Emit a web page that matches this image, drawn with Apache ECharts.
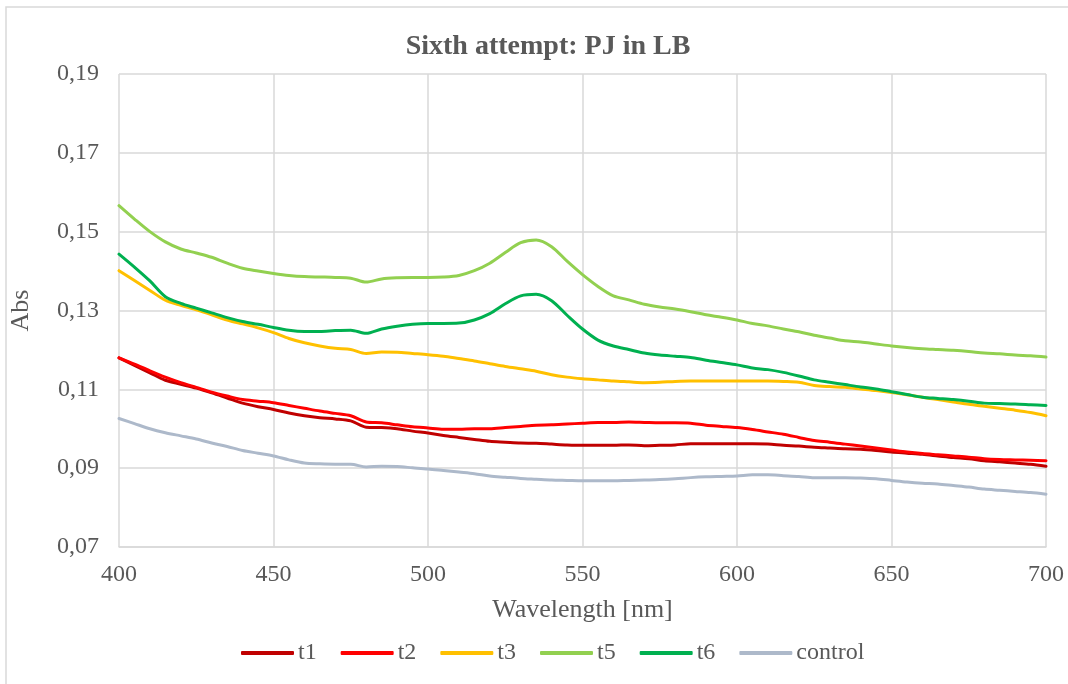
<!DOCTYPE html>
<html>
<head>
<meta charset="utf-8">
<title>Sixth attempt: PJ in LB</title>
<script src="https://cdn.jsdelivr.net/npm/echarts@6/dist/echarts.min.js"></script>
<style>
  html, body { margin: 0; padding: 0; background: #ffffff; }
  #chart { width: 1068px; height: 684px; }
</style>
</head>
<body>
<div id="chart"></div>
<script>
// Wavelength grid (nm), 5 nm steps
const wavelengths = [];
for (let w = 400; w <= 700; w += 5) wavelengths.push(w);

// Absorbance readings per sample, one value per wavelength
const t1 = [
  0.1180, 0.1161, 0.1142, 0.1123, 0.1113, 0.1103, 0.1091, 0.1078, 0.1065, 0.1056,
  0.1049, 0.1040, 0.1033, 0.1028, 0.1025, 0.1020, 0.1004, 0.1003, 0.1000, 0.0994,
  0.0989, 0.0983, 0.0978, 0.0973, 0.0968, 0.0966, 0.0964, 0.0963, 0.0961, 0.0959,
  0.0958, 0.0958, 0.0958, 0.0959, 0.0957, 0.0958, 0.0959, 0.0962, 0.0962, 0.0962,
  0.0962, 0.0962, 0.0961, 0.0958, 0.0956, 0.0953, 0.0951, 0.0949, 0.0948, 0.0945,
  0.0941, 0.0938, 0.0935, 0.0931, 0.0927, 0.0924, 0.0919, 0.0916, 0.0913, 0.0910,
  0.0905
];
const t2 = [
  0.1180, 0.1164, 0.1147, 0.1131, 0.1117, 0.1105, 0.1093, 0.1083, 0.1074, 0.1070,
  0.1066, 0.1059, 0.1052, 0.1045, 0.1039, 0.1033, 0.1017, 0.1015, 0.1010, 0.1005,
  0.1002, 0.0999, 0.0999, 0.1000, 0.1000, 0.1003, 0.1006, 0.1009, 0.1010, 0.1012,
  0.1014, 0.1016, 0.1016, 0.1017, 0.1016, 0.1015, 0.1015, 0.1014, 0.1009, 0.1006,
  0.1003, 0.0998, 0.0992, 0.0986, 0.0978, 0.0970, 0.0966, 0.0961, 0.0956, 0.0951,
  0.0946, 0.0941, 0.0937, 0.0934, 0.0931, 0.0928, 0.0924, 0.0922, 0.0921, 0.0920,
  0.0919
];
const t3 = [
  0.1401, 0.1376, 0.1351, 0.1326, 0.1313, 0.1302, 0.1289, 0.1276, 0.1266, 0.1256,
  0.1244, 0.1229, 0.1218, 0.1210, 0.1204, 0.1201, 0.1191, 0.1195, 0.1194, 0.1191,
  0.1188, 0.1184, 0.1178, 0.1172, 0.1165, 0.1158, 0.1152, 0.1146, 0.1137, 0.1131,
  0.1127, 0.1124, 0.1121, 0.1119, 0.1117, 0.1118, 0.1120, 0.1121, 0.1121, 0.1121,
  0.1121, 0.1121, 0.1121, 0.1120, 0.1118, 0.1110, 0.1107, 0.1105, 0.1101, 0.1097,
  0.1092, 0.1086, 0.1080, 0.1074, 0.1068, 0.1062, 0.1057, 0.1052, 0.1047, 0.1041,
  0.1033
];
const t5 = [
  0.1566, 0.1532, 0.1500, 0.1474, 0.1456, 0.1446, 0.1435, 0.1420, 0.1407, 0.1400,
  0.1394, 0.1389, 0.1386, 0.1385, 0.1384, 0.1382, 0.1372, 0.1380, 0.1383, 0.1384,
  0.1384, 0.1385, 0.1389, 0.1401, 0.1420, 0.1447, 0.1472, 0.1479, 0.1462, 0.1425,
  0.1391, 0.1361, 0.1337, 0.1327, 0.1316, 0.1309, 0.1304, 0.1297, 0.1289, 0.1283,
  0.1276, 0.1267, 0.1261, 0.1253, 0.1246, 0.1237, 0.1230, 0.1223, 0.1220, 0.1215,
  0.1210, 0.1206, 0.1203, 0.1201, 0.1199, 0.1196, 0.1192, 0.1190, 0.1187, 0.1185,
  0.1182
];
const t6 = [
  0.1443, 0.1410, 0.1375, 0.1335, 0.1318, 0.1306, 0.1294, 0.1282, 0.1272, 0.1265,
  0.1257, 0.1250, 0.1247, 0.1247, 0.1249, 0.1250, 0.1242, 0.1253, 0.1260, 0.1265,
  0.1267, 0.1267, 0.1268, 0.1276, 0.1292, 0.1317, 0.1337, 0.1341, 0.1325, 0.1288,
  0.1253, 0.1225, 0.1210, 0.1201, 0.1192, 0.1187, 0.1184, 0.1181, 0.1174, 0.1168,
  0.1162, 0.1154, 0.1150, 0.1143, 0.1134, 0.1124, 0.1118, 0.1112, 0.1106, 0.1101,
  0.1094, 0.1087, 0.1080, 0.1077, 0.1074, 0.1070, 0.1065, 0.1064, 0.1063, 0.1061,
  0.1059
];
const control = [
  0.1026, 0.1013, 0.1000, 0.0990, 0.0982, 0.0974, 0.0964, 0.0955, 0.0945, 0.0938,
  0.0931, 0.0921, 0.0913, 0.0911, 0.0910, 0.0910, 0.0903, 0.0905, 0.0904, 0.0901,
  0.0898, 0.0894, 0.0890, 0.0886, 0.0880, 0.0877, 0.0874, 0.0872, 0.0870, 0.0869,
  0.0868, 0.0868, 0.0868, 0.0869, 0.0870, 0.0871, 0.0873, 0.0876, 0.0878, 0.0879,
  0.0880, 0.0883, 0.0883, 0.0881, 0.0879, 0.0876, 0.0876, 0.0876, 0.0875, 0.0873,
  0.0869, 0.0865, 0.0862, 0.0860, 0.0856, 0.0852, 0.0847, 0.0844, 0.0841, 0.0838,
  0.0834
];

const seriesNames = ['t1', 't2', 't3', 't5', 't6', 'control'];
const seriesValues = [t1, t2, t3, t5, t6, control];
const seriesColors = ['#C00000', '#FF0000', '#FFC000', '#92D050', '#00B050', '#ADB9CA'];

const FONT = '"Liberation Serif", "Times New Roman", serif';
const TEXT = '#595959';
const GRID = '#d9d9d9';

const chart = echarts.init(document.getElementById('chart'), null, { renderer: 'canvas' });

chart.setOption({
  animation: false,
  backgroundColor: '#ffffff',
  textStyle: { fontFamily: FONT, color: TEXT },
  title: {
    text: 'Sixth attempt: PJ in LB',
    left: 543,
    textAlign: 'center',
    top: 28,
    textStyle: { fontFamily: FONT, fontSize: 28, fontWeight: 'bold', color: TEXT }
  },
  graphic: [{
    type: 'rect',
    shape: { x: 6, y: 7, width: 1100, height: 720 },
    style: { fill: 'none', stroke: GRID, lineWidth: 1.5 },
    silent: true
  }],
  legend: {
    data: seriesNames,
    left: 236,
    top: 636,
    itemWidth: 53,
    itemHeight: 4,
    itemGap: 24,
    icon: 'roundRect',
    textStyle: { fontFamily: FONT, fontSize: 24, color: TEXT, padding: [0, 0, 0, -1] }
  },
  grid: { left: 119, right: 22, top: 74, bottom: 137, containLabel: false },
  xAxis: {
    type: 'value',
    min: 400,
    max: 700,
    interval: 50,
    name: 'Wavelength [nm]',
    nameLocation: 'middle',
    nameGap: 50,
    nameTextStyle: { fontFamily: FONT, fontSize: 26, color: TEXT },
    axisLine: { show: true, lineStyle: { color: GRID, width: 1.5 } },
    axisTick: { show: false },
    axisLabel: { fontFamily: FONT, fontSize: 24, color: TEXT, margin: 16 },
    splitLine: { show: true, lineStyle: { color: GRID, width: 1.5 } }
  },
  yAxis: {
    type: 'value',
    min: 0.07,
    max: 0.19,
    interval: 0.02,
    name: 'Abs',
    nameLocation: 'middle',
    nameGap: 85,
    nameRotate: 90,
    nameTextStyle: { fontFamily: FONT, fontSize: 26, color: TEXT },
    axisLine: { show: false },
    axisTick: { show: false },
    axisLabel: {
      fontFamily: FONT, fontSize: 24, color: TEXT, margin: 20,
      formatter: v => v.toFixed(2).replace('.', ',')
    },
    splitLine: { show: true, lineStyle: { color: GRID, width: 1.5 } }
  },
  series: seriesNames.map((name, i) => ({
    name,
    type: 'line',
    data: wavelengths.map((w, j) => [w, seriesValues[i][j]]),
    smooth: 0.3,
    showSymbol: false,
    lineStyle: { color: seriesColors[i], width: 3, cap: 'round', join: 'round' },
    itemStyle: { color: seriesColors[i] },
    emphasis: { disabled: true }
  }))
});
</script>
</body>
</html>
